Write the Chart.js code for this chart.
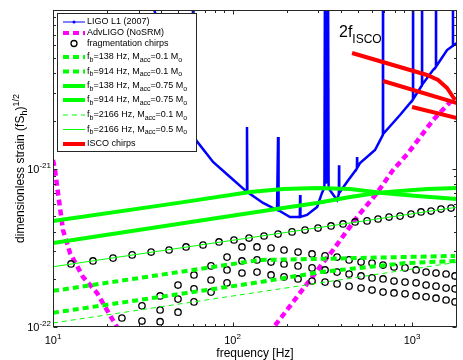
<!DOCTYPE html>
<html>
<head>
<meta charset="utf-8">
<script src="https://cdn.jsdelivr.net/npm/chart.js@4.4.0/dist/chart.umd.min.js"></script>
<style>
  html, body { margin: 0; padding: 0; background: #fff; }
  #wrap { width: 463px; height: 360px; }
</style>
</head>
<body>
<div id="wrap"><canvas id="strainChart" width="463" height="360"></canvas></div>
<script>
// values (frequency in Hz, strain dimensionless)

// LIGO L1 2007 noise curve, spikes are the narrow lines
const ligoFreq = [30, 36.6, 45, 55, 60, 60.3, 60.6, 62.6, 77.9, 96.9, 119.8, 120.4, 121, 147.9, 177, 179.3, 180.5,
  209, 237, 238, 239, 260, 296, 315, 325, 327.6, 330, 334, 337, 340, 343, 358, 382, 391, 392, 393, 434,
  493, 494, 495, 513, 622, 688, 689, 690, 857, 1012, 1013, 1014, 1066, 1136, 1137, 1138, 1309,
  1359, 1360, 1361, 1567, 1689, 1690, 1691, 1780];
const ligoStrain = [300e-22, 100e-22, 50e-22, 25e-22, 19e-22, 300e-22, 18e-22, 15.1e-22, 11.0e-22, 8.84e-22, 7.15e-22, 18.3e-22, 7.1e-22, 6.06e-22, 5.47e-22, 15.8e-22, 5.45e-22,
  4.94e-22, 4.95e-22, 6.81e-22, 4.95e-22, 5.09e-22, 5.72e-22, 7.01e-22, 7.6e-22, 300e-22, 8.0e-22, 300e-22, 8.2e-22, 300e-22, 7.5e-22, 7.01e-22, 6.33e-22, 6.9e-22, 10.5e-22, 7.0e-22, 8.22e-22,
  10.0e-22, 11.8e-22, 10.1e-22, 10.83e-22, 13.08e-22, 16.3e-22, 300e-22, 16.5e-22, 21.76e-22, 27.2e-22, 300e-22, 27.4e-22, 29.95e-22, 33.5e-22, 300e-22, 33.8e-22, 41.83e-22,
  43.8e-22, 300e-22, 44e-22, 55.9e-22, 59.5e-22, 300e-22, 59.8e-22, 61.9e-22];

// AdvLIGO (NoSRM), low and high frequency walls
const advLowFreq = [10, 10.26, 10.66, 11.37, 12.44, 14.69, 17.6, 19.5, 22.7, 25.2];
const advLowStrain = [11.31e-22, 9.78e-22, 7.01e-22, 4.09e-22, 2.93e-22, 2.07e-22, 1.64e-22, 1.34e-22, 1.00e-22, 0.83e-22];
const advHighFreq = [160, 170, 201, 270, 363, 494, 638, 783, 951, 1309, 1736];
const advHighStrain = [0.91e-22, 1.00e-22, 1.28e-22, 1.98e-22, 3.06e-22, 4.94e-22, 7.01e-22, 9.78e-22, 12.53e-22, 20.2e-22, 28.26e-22];

// fragmentation chirps
const fragTopFreq = [12.6, 16.7, 21.6, 27.6, 35.2, 44.3, 55.1, 68.5, 84.1, 101.9, 123.6, 149.8, 179.3, 214.5,
  253.5, 299.4, 353.8, 412.8, 481.4, 561.5, 646.6, 744.4, 857.5, 987.3, 1122, 1276, 1450, 1649];
const fragTopStrain = [2.50e-22, 2.61e-22, 2.72e-22, 2.85e-22, 2.97e-22, 3.06e-22, 3.20e-22, 3.29e-22, 3.44e-22, 3.54e-22, 3.64e-22, 3.75e-22, 3.86e-22, 3.98e-22,
  4.09e-22, 4.21e-22, 4.34e-22, 4.47e-22, 4.60e-22, 4.67e-22, 4.80e-22, 4.94e-22, 5.01e-22, 5.16e-22, 5.32e-22, 5.39e-22, 5.55e-22, 5.63e-22];
const fragFreq = [24.2, 31.3, 39.5, 49.7, 61.0, 75.9, 93.2, 112.9, 136.9, 163.9, 193.6, 231.7, 277.3,
  327.6, 382.2, 445.9, 519.9, 598.6, 689.3, 793.6, 914.1, 1053, 1197, 1360, 1547, 1736];
const fragStrain1 = [1.14e-22, 1.36e-22, 1.57e-22, 1.84e-22, 2.13e-22, 2.43e-22, 2.76e-22, 3.20e-22, 3.20e-22, 3.15e-22, 3.06e-22, 2.97e-22, 2.89e-22,
  2.81e-22, 2.76e-22, 2.65e-22, 2.57e-22, 2.53e-22, 2.46e-22, 2.39e-22, 2.36e-22, 2.29e-22, 2.22e-22, 2.19e-22, 2.16e-22, 2.10e-22];
const fragStrain2 = [null, 1.09e-22, 1.28e-22, 1.50e-22, 1.74e-22, 1.98e-22, 2.29e-22, 2.61e-22, 2.65e-22, 2.57e-22, 2.50e-22, 2.43e-22, 2.36e-22,
  2.29e-22, 2.22e-22, 2.16e-22, 2.10e-22, 2.04e-22, 2.01e-22, 1.95e-22, 1.92e-22, 1.90e-22, 1.84e-22, 1.81e-22, 1.76e-22, 1.74e-22];
const fragStrain3 = [null, null, 1.08e-22, 1.24e-22, 1.44e-22, 1.66e-22, 1.90e-22, 2.19e-22, 2.22e-22, 2.13e-22, 2.07e-22, 2.01e-22, 1.95e-22,
  1.92e-22, 1.87e-22, 1.81e-22, 1.76e-22, 1.71e-22, 1.66e-22, 1.64e-22, 1.62e-22, 1.57e-22, 1.55e-22, 1.52e-22, 1.48e-22, 1.44e-22];

// accretion disk models: break frequency and accreted mass
const diskBreakFreq = [138, 914, 138, 914, 2166, 2166];
const diskMacc = ['0.1', '0.1', '0.75', '0.75', '0.1', '0.5'];
const disk138m01Freq = [10, 142.3, 307.3, 1736];
const disk138m01Strain = [1.69e-22, 2.65e-22, 2.69e-22, 2.81e-22];
const disk914m01Freq = [10, 142.3, 307.3, 914, 1780];
const disk914m01Strain = [1.23e-22, 1.92e-22, 2.22e-22, 2.53e-22, 2.61e-22];
const disk138m75Freq = [10, 51.0, 125.2, 191.1, 295.6, 451.4, 689.3, 1066, 1780];
const disk138m75Strain = [4.67e-22, 6.09e-22, 7.11e-22, 7.43e-22, 7.53e-22, 7.43e-22, 7.01e-22, 6.71e-22, 6.42e-22];
const disk914m75Freq = [10, 125.2, 191.1, 295.6, 451.4, 638, 857.5, 1212, 1780];
const disk914m75Strain = [3.39e-22, 5.24e-22, 5.63e-22, 6.06e-22, 6.61e-22, 7.01e-22, 7.21e-22, 7.43e-22, 7.53e-22];
const disk2166m01Freq = [10, 1780];
const disk2166m01Strain = [1.06e-22, 2.56e-22];
const disk2166m05Freq = [10, 1780];
const disk2166m05Strain = [2.40e-22, 5.70e-22];

// ISCO chirps
const isco1Freq = [463.3, 1212, 1396, 1567, 1736];
const isco1Strain = [53.55e-22, 38.9e-22, 36.17e-22, 32.2e-22, 27.05e-22];
const isco2Freq = [689.3, 1781];
const isco2Strain = [35.65e-22, 25.9e-22];
const isco3Freq = [1000, 1781];
const isco3Strain = [24.43e-22, 20.83e-22];

// axes
const xTickValues = [10, 100, 1000];
const xTickExp = ['1', '2', '3'];
const yTickValues = [1e-22, 1e-21];
const yTickExp = ['-22', '-21'];

const FONT = '"Liberation Sans", Arial, Helvetica, sans-serif';

function pts(xs, ys) {
  return xs.map((v, i) => ({ x: v, y: ys[i] }));
}

function lineSet(xs, ys, color, width, dash, order) {
  return {
    data: pts(xs, ys), borderColor: color, borderWidth: width, borderDash: dash,
    pointRadius: 0, tension: 0, fill: false, clip: 0, order: order
  };
}

function circleSet(xs, ys, order) {
  return {
    data: pts(xs, ys), showLine: false, pointStyle: 'circle', pointRadius: 3.2,
    pointBorderWidth: 1.3, pointBorderColor: '#000', pointBackgroundColor: 'rgba(0,0,0,0)',
    clip: 0, order: order
  };
}

// draws text made of pieces [text, size, shift] (sub/superscripts)
function richText(ctx, parts, x, y, align) {
  let total = 0;
  for (const p of parts) {
    ctx.font = p[1] + 'px ' + FONT;
    total += ctx.measureText(p[0]).width;
  }
  let cx = align === 'center' ? x - total / 2 : (align === 'right' ? x - total : x);
  ctx.textAlign = 'left';
  for (const p of parts) {
    ctx.font = p[1] + 'px ' + FONT;
    ctx.fillText(p[0], cx, y + p[2]);
    cx += ctx.measureText(p[0]).width;
  }
}

const GREEN = '#00ff00';
const MAGENTA = '#ff00ff';

const datasets = [
  lineSet(ligoFreq, ligoStrain, '#0000ff', 2.5, [], 20),
  lineSet(advLowFreq, advLowStrain, MAGENTA, 4.5, [6, 4], 19),
  lineSet(advHighFreq, advHighStrain, MAGENTA, 4.5, [6, 4], 19),
  circleSet(fragTopFreq, fragTopStrain, 18),
  circleSet(fragFreq, fragStrain1, 18),
  circleSet(fragFreq, fragStrain2, 18),
  circleSet(fragFreq, fragStrain3, 18),
  lineSet(disk138m01Freq, disk138m01Strain, GREEN, 4, [6, 4], 17),
  lineSet(disk914m01Freq, disk914m01Strain, GREEN, 4, [6, 4], 16),
  lineSet(disk138m75Freq, disk138m75Strain, GREEN, 4, [], 15),
  lineSet(disk914m75Freq, disk914m75Strain, GREEN, 4, [], 14),
  lineSet(disk2166m01Freq, disk2166m01Strain, GREEN, 1, [5, 4], 13),
  lineSet(disk2166m05Freq, disk2166m05Strain, GREEN, 1, [], 12),
  lineSet(isco1Freq, isco1Strain, '#ff0000', 4, [], 11),
  lineSet(isco2Freq, isco2Strain, '#ff0000', 4, [], 10),
  lineSet(isco3Freq, isco3Strain, '#ff0000', 4, [], 9)
];

// legend box inside the plot, like the matlab one
const legendPlugin = {
  id: 'insideLegend',
  afterDatasetsDraw(chart) {
    const ctx = chart.ctx;
    ctx.save();
    // annotation
    ctx.fillStyle = '#000';
    ctx.textBaseline = 'alphabetic';
    richText(ctx, [['2f', 16, 0], ['ISCO', 12, 6]], 339, 37, 'left');

    ctx.fillStyle = '#fff';
    ctx.fillRect(57, 13, 139, 138);
    ctx.strokeStyle = '#262626';
    ctx.lineWidth = 1;
    ctx.strokeRect(57.5, 13.5, 139, 138);

    const x0 = 63, x1 = 85, tx = 87;
    const rowY = [22, 33, 43.5, 57, 71.5, 86, 100, 115, 129.5, 144];
    const samples = [
      { c: '#0000ff', w: 1, d: [] },
      { c: MAGENTA, w: 4, d: [6, 4] },
      null,
      { c: GREEN, w: 4, d: [6, 4] },
      { c: GREEN, w: 4, d: [6, 4] },
      { c: GREEN, w: 4, d: [] },
      { c: GREEN, w: 4, d: [] },
      { c: GREEN, w: 1, d: [5, 4] },
      { c: GREEN, w: 1, d: [] },
      { c: '#ff0000', w: 4, d: [] }
    ];
    const labels = [
      [['LIGO L1 (2007)', 9, 0]],
      [['AdvLIGO (NoSRM)', 9, 0]],
      [['fragmentation chirps', 9, 0]]
    ];
    diskBreakFreq.forEach((fb, i) => {
      labels.push([['f', 9, 0], ['b', 7, 3], ['=' + fb + ' Hz, M', 9, 0], ['acc', 7, 3],
        ['=' + diskMacc[i] + ' M', 9, 0], ['o', 7, 3]]);
    });
    labels.push([['ISCO chirps', 9, 0]]);

    rowY.forEach((y, i) => {
      const s = samples[i];
      if (s) {
        ctx.beginPath();
        ctx.strokeStyle = s.c;
        ctx.lineWidth = s.w;
        ctx.setLineDash(s.d);
        ctx.moveTo(x0, y);
        ctx.lineTo(x1, y);
        ctx.stroke();
        ctx.setLineDash([]);
      }
      if (i === 0) {
        ctx.fillStyle = '#0000ff';
        ctx.beginPath();
        ctx.arc((x0 + x1) / 2, y, 1.5, 0, Math.PI * 2);
        ctx.fill();
      }
      if (i === 2) {
        ctx.strokeStyle = '#000';
        ctx.lineWidth = 1.3;
        ctx.beginPath();
        ctx.arc((x0 + x1) / 2, y, 3, 0, Math.PI * 2);
        ctx.stroke();
      }
      ctx.fillStyle = '#000';
      ctx.textBaseline = 'middle';
      richText(ctx, labels[i], tx, y, 'left');
    });
    ctx.restore();
  }
};

// box, log ticks on all four sides, tick labels, axis titles
const axesPlugin = {
  id: 'matlabAxes',
  afterDraw(chart) {
    const { ctx, chartArea: a, scales } = chart;
    const sx = scales.x, sy = scales.y;
    const L = Math.round(a.left) + 0.5, R = Math.round(a.right) - 0.5;
    const T = Math.round(a.top) + 0.5, B = Math.round(a.bottom) - 0.5;
    ctx.save();
    ctx.strokeStyle = '#262626';
    ctx.lineWidth = 1;
    ctx.strokeRect(L, T, R - L, B - T);

    ctx.beginPath();
    for (let d = 10; d <= 1000; d *= 10) {
      for (let m = 1; m <= 9; m++) {
        const v = d * m;
        if (v < sx.min || v > sx.max) continue;
        const px = Math.round(sx.getPixelForValue(v)) + 0.5;
        const len = m === 1 ? 4 : 2.5;
        ctx.moveTo(px, B); ctx.lineTo(px, B - len);
        ctx.moveTo(px, T); ctx.lineTo(px, T + len);
      }
    }
    for (let d = 1e-22; d <= 1.01e-20; d *= 10) {
      for (let m = 1; m <= 9; m++) {
        const v = d * m;
        if (v < sy.min * 0.999 || v > sy.max * 1.001) continue;
        const py = Math.round(sy.getPixelForValue(v)) + 0.5;
        const len = m === 1 ? 4 : 2.5;
        ctx.moveTo(L, py); ctx.lineTo(L + len, py);
        ctx.moveTo(R, py); ctx.lineTo(R - len, py);
      }
    }
    ctx.stroke();

    ctx.fillStyle = '#000';
    ctx.textBaseline = 'alphabetic';
    xTickValues.forEach((v, i) => {
      const px = sx.getPixelForValue(v);
      richText(ctx, [['10', 11, 0], [xTickExp[i], 8, -5]], px, 344, 'center');
    });
    yTickValues.forEach((v, i) => {
      const py = sy.getPixelForValue(v);
      richText(ctx, [['10', 11, 0], [yTickExp[i], 8, -5]], 51, py + 4, 'right');
    });

    richText(ctx, [['frequency [Hz]', 12, 0]], (a.left + a.right) / 2, 357, 'center');

    ctx.save();
    ctx.translate(24, (a.top + a.bottom) / 2);
    ctx.rotate(-Math.PI / 2);
    richText(ctx, [['dimensionless strain (fS', 12, 0], ['h', 9, 3], [')', 12, 0], ['1/2', 9, -5]], 0, 0, 'center');
    ctx.restore();
    ctx.restore();
  }
};

new Chart(document.getElementById('strainChart'), {
  type: 'line',
  data: { datasets: datasets },
  options: {
    responsive: false,
    animation: false,
    events: [],
    layout: { padding: { left: 53, top: 10, right: 6, bottom: 33 } },
    scales: {
      x: { type: 'logarithmic', min: 10, max: 1780, display: false },
      y: { type: 'logarithmic', min: 1e-22, max: 1e-20, display: false }
    },
    plugins: { legend: { display: false }, tooltip: { enabled: false } }
  },
  plugins: [legendPlugin, axesPlugin]
});
</script>
</body>
</html>
